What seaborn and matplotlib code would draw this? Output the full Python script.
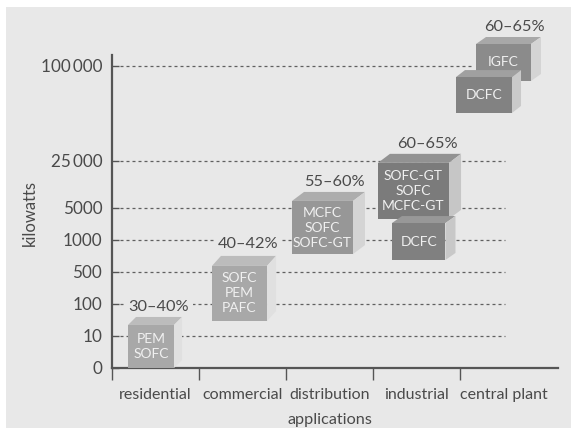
import numpy as np
import matplotlib
matplotlib.use("Agg")
import matplotlib.pyplot as plt
from matplotlib.patches import Polygon, Rectangle
from matplotlib.transforms import IdentityTransform
import seaborn as sns

# Axis content
categories = ["residential", "commercial", "distribution", "industrial", "central plant"]
kw_ticks = [0, 10, 100, 500, 1000, 5000, 25000, 100000]
kw_tick_labels = ["0", "10", "100", "500", "1000", "5000", "25\u2009000", "100\u2009000"]

# Stepped kilowatt axis: tick value -> position
scale_kw = [0, 10, 100, 500, 1000, 5000, 25000, 100000, 200000, 400000]
scale_pos = [0, 1, 2, 3, 4, 5, 6.47, 9.44, 10.44, 11.44]

# Technology boxes, back to front
box_labels = ["PEM\nSOFC", "SOFC\nPEM\nPAFC", "MCFC\nSOFC\nSOFC-GT",
              "SOFC-GT\nSOFC\nMCFC-GT", "DCFC", "IGFC", "DCFC"]
box_low_kw = [0, 52, 780, 3640, 688, 88100, 62900]
box_high_kw = [41, 595, 8000, 24200, 3120, 168500, 91200]
box_left = [0.184, 1.149, 2.069, 3.057, 3.218, 4.184, 3.954]
box_right = [0.713, 1.782, 2.770, 3.874, 3.833, 4.816, 4.598]
box_depth = [(8, 8), (9, 10), (12, 9), (12, 9), (10, 7), (10, 7), (9, 7)]
front_colors = ["#a8a8a8", "#a8a8a8", "#979797", "#7b7b7b", "#808080", "#8b8b8b", "#828282"]
top_colors = ["#bcbcbc", "#bcbcbc", "#adadad", "#929292", "#989898", "#a8a8a8", "#a0a0a0"]
side_colors = ["#e0e0e0", "#e0e0e0", "#d4d4d4", "#c6c6c6", "#c8c8c8", "#d4d4d4", "#cacaca"]

# Efficiency ranges
eff_labels = ["30\u201340%", "40\u201342%", "55\u201360%", "60\u201365%", "60\u201365%"]
eff_x = [0.54, 1.57, 2.56, 3.63, 4.62]
eff_kw = [92, 937, 16000, 38400, 244000]

BG = "#e8e8e8"
INK = "#4a4a4a"
FONT = ["Lato", "Roboto", "DejaVu Sans"]

sns.set_theme(style="white")
plt.rcParams["font.family"] = FONT

W, H = 571, 428
fig = plt.figure(figsize=(W / 100, H / 100), dpi=100, facecolor="white")
fig.patches.append(Rectangle((6 / W, 0), 1, 1 - 7 / H, transform=fig.transFigure,
                             facecolor=BG, edgecolor="none", zorder=-5))
ax = fig.add_axes([112 / W, (H - 368) / H, (558 - 112) / W, (368 - 55) / H])
ax.patch.set_visible(False)


def to_pos(v):
    return np.interp(v, scale_kw, scale_pos)


def to_kw(p):
    return np.interp(p, scale_pos, scale_kw)


ax.set_yscale("function", functions=(to_pos, to_kw))

# Boxes: front faces as bars, then top and side faces offset in pixels
for i, label in enumerate(box_labels):
    z = 3 + i
    width = box_right[i] - box_left[i]
    centre = (box_left[i] + box_right[i]) / 2
    sns.barplot(x=[centre], y=[box_high_kw[i] - box_low_kw[i]], bottom=box_low_kw[i],
                native_scale=True, width=width, color=front_colors[i], saturation=1,
                errorbar=None, ax=ax, zorder=z + 0.5, linewidth=0, clip_on=False)

ax.set_xlim(0, (558 - 112) / 87)
ax.set_ylim(0, to_kw((368 - 55) / 32))
ax.set_xlabel("")
ax.set_ylabel("")

for i, label in enumerate(box_labels):
    z = 3 + i
    x0, x1 = box_left[i], box_right[i]
    y0, y1 = box_low_kw[i], box_high_kw[i]
    dx, dy = box_depth[i]
    (px0, py0), (px1, py1) = ax.transData.transform([(x0, y0), (x1, y1)])
    ax.add_patch(Polygon([(px0, py1), (px1, py1), (px1 + dx, py1 + dy), (px0 + dx, py1 + dy)],
                         transform=IdentityTransform(), facecolor=top_colors[i],
                         edgecolor="none", zorder=z, clip_on=False))
    ax.add_patch(Polygon([(px1, py0), (px1, py1), (px1 + dx, py1 + dy), (px1 + dx, py0 + dy)],
                         transform=IdentityTransform(), facecolor=side_colors[i],
                         edgecolor="none", zorder=z, clip_on=False))
    ax.text((x0 + x1) / 2, to_kw((to_pos(y0) + to_pos(y1)) / 2), label, ha="center",
            va="center", color="#f0f0f0", fontsize=10, linespacing=1.3,
            zorder=z + 0.7, clip_on=False)

# Dashed guides start at the tick and stop short of the last column
for value in kw_ticks[1:]:
    end = 4.138 if value == 100000 else 4.517
    ax.plot([0.09, end], [value, value], color="#606060", lw=0.9, dashes=(2.4, 2.4), zorder=1)

for text, x, y in zip(eff_labels, eff_x, eff_kw):
    ax.text(x, y, text, ha="center", va="center", color=INK, fontsize=11.8, zorder=2,
            clip_on=False, bbox=dict(facecolor=BG, edgecolor="none", pad=2.5))

ax.set_xticks(np.arange(len(categories)))
ax.set_xticklabels([])
ax.set_yticks(kw_ticks)
ax.set_yticklabels(kw_tick_labels, fontsize=12.3, color=INK)
ax.minorticks_off()
ax.tick_params(axis="y", direction="in", length=5, width=1.0, color="#555555", pad=7, left=True)
ax.tick_params(axis="x", direction="out", length=8.5, width=1.0, color="#555555", bottom=True)

for i, name in enumerate(categories):
    ax.text(i + 0.5, -27 / 313, name, transform=ax.get_xaxis_transform(), ha="center",
            va="center", color=INK, fontsize=11.5)
ax.text(330, H - 420, "applications", transform=IdentityTransform(), ha="center",
        va="center", color=INK, fontsize=11.7)
ax.text(30, H - 213, "kilowatts", transform=IdentityTransform(), rotation=90, ha="center",
        va="center", color=INK, fontsize=12)

sns.despine(ax=ax)
for side in ("left", "bottom"):
    ax.spines[side].set_linewidth(1.6)
    ax.spines[side].set_color("#555555")

fig.savefig("out.png", dpi=100)
